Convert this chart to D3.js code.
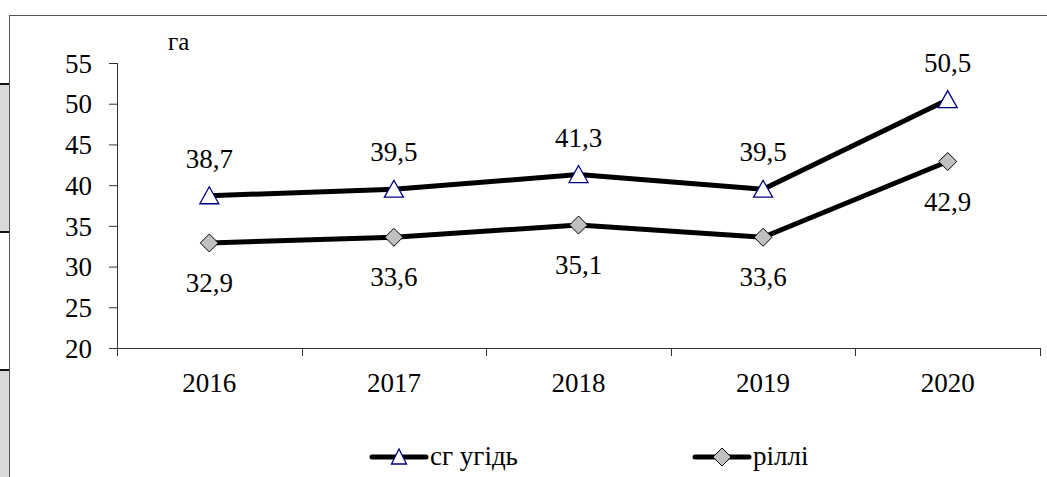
<!DOCTYPE html>
<html>
<head>
<meta charset="utf-8">
<script src="https://cdn.jsdelivr.net/npm/d3@7"></script>
<style>
  body { margin: 0; background: #fff; }
</style>
</head>
<body>
<svg id="chart" width="1047" height="477"></svg>
<script>
// data
var years = ["2016", "2017", "2018", "2019", "2020"];
var sgUgid = [38.7, 39.5, 41.3, 39.5, 50.5];   // сг угідь
var rilli = [32.9, 33.6, 35.1, 33.6, 42.9];    // ріллі
var yTicks = [20, 25, 30, 35, 40, 45, 50, 55];
var seriesNames = ["сг угідь", "ріллі"];

var FONT = "Liberation Serif";
var svg = d3.select("#chart").attr("font-family", FONT);
var fmt = function(v) { return d3.format(".1f")(v).replace(".", ","); };

// bits of the page around the chart frame
var strip = svg.append("g");
strip.append("rect").attr("x", 0).attr("y", 84).attr("width", 9).attr("height", 148).attr("fill", "#d9d9d9");
strip.append("rect").attr("x", 0).attr("y", 370).attr("width", 9).attr("height", 120).attr("fill", "#d9d9d9");
[84, 232, 370].forEach(function(y) {
  strip.append("line").attr("x1", 0).attr("x2", 9).attr("y1", y).attr("y2", y)
       .attr("stroke", "#111").attr("stroke-width", 2);
});
svg.append("rect").attr("x", 9.5).attr("y", 15.5).attr("width", 1100).attr("height", 500)
   .attr("fill", "none").attr("stroke", "#555").attr("stroke-width", 1);

var pLeft = 117, pRight = 1040, pTop = 63, pBottom = 348;

var x = d3.scaleBand().domain(years).range([pLeft, pRight]);
var y = d3.scaleLinear().domain([20, 55]).range([pBottom, pTop]);

// y axis
var yAxis = svg.append("g").attr("transform", "translate(" + pLeft + ",0)")
  .call(d3.axisLeft(y).tickValues(yTicks).tickSize(8).tickPadding(17).tickFormat(d3.format("d")));
yAxis.attr("font-family", FONT).attr("font-size", 27);
yAxis.select(".domain").attr("d", "M0.5," + pTop + "V" + (pBottom + 8)).attr("stroke", "#333");
yAxis.selectAll(".tick line").attr("stroke", "#333");
yAxis.selectAll("text").attr("font-family", FONT).attr("font-size", 27).attr("fill", "#000").attr("dy", "0.34em");

// x axis: ticks sit at the category boundaries
var xg = svg.append("g").attr("transform", "translate(0," + pBottom + ")");
xg.append("line").attr("x1", pLeft).attr("x2", pRight).attr("y1", 0.5).attr("y2", 0.5).attr("stroke", "#333");
var bounds = years.map(function(d) { return x(d) + x.bandwidth(); });
xg.selectAll(".bt").data(bounds).enter().append("line")
  .attr("x1", function(d) { return Math.round(d) + 0.5; })
  .attr("x2", function(d) { return Math.round(d) + 0.5; })
  .attr("y1", 0).attr("y2", 8).attr("stroke", "#333");
xg.selectAll(".yl").data(years).enter().append("text")
  .attr("x", function(d) { return x(d) + x.bandwidth() / 2; })
  .attr("y", 44)
  .attr("text-anchor", "middle").attr("font-size", 27).attr("font-family", FONT)
  .text(function(d) { return d; });

svg.append("text").attr("x", 168).attr("y", 50).attr("font-size", 25).attr("font-family", FONT).text("га");

var cx = function(i) { return x(years[i]) + x.bandwidth() / 2; };
var line = d3.line().x(function(d, i) { return cx(i); }).y(function(d) { return y(d); });

[sgUgid, rilli].forEach(function(s) {
  svg.append("path").datum(s).attr("d", line)
     .attr("fill", "none").attr("stroke", "#000").attr("stroke-width", 5).attr("stroke-linejoin", "round");
});

var dia = function(h) { return "M0," + (-h) + "L" + h + ",0L0," + h + "L" + (-h) + ",0Z"; };

svg.selectAll(".tri").data(sgUgid).enter().append("path")
  .attr("d", "M0,-9L9.5,8L-9.5,8Z")
  .attr("transform", function(d, i) { return "translate(" + cx(i) + "," + y(d) + ")"; })
  .attr("fill", "#fff").attr("stroke", "#000080").attr("stroke-width", 1.3);

svg.selectAll(".dia").data(rilli).enter().append("path")
  .attr("d", dia(9))
  .attr("transform", function(d, i) { return "translate(" + cx(i) + "," + y(d) + ")"; })
  .attr("fill", "#c0c0c0").attr("stroke", "#000").attr("stroke-width", 1);

svg.selectAll(".lt").data(sgUgid).enter().append("text")
  .attr("x", function(d, i) { return cx(i); })
  .attr("y", function(d) { return y(d) - 28; })
  .attr("text-anchor", "middle").attr("font-size", 27).attr("font-family", FONT)
  .text(fmt);

svg.selectAll(".lr").data(rilli).enter().append("text")
  .attr("x", function(d, i) { return cx(i); })
  .attr("y", function(d) { return y(d) + 49; })
  .attr("text-anchor", "middle").attr("font-size", 27).attr("font-family", FONT)
  .text(fmt);

// legend
var leg = [{x: 372, mark: "tri"}, {x: 695, mark: "dia"}];
leg.forEach(function(l, i) {
  var g = svg.append("g").attr("transform", "translate(" + l.x + ",457)");
  g.append("line").attr("x1", 0).attr("x2", 54).attr("stroke", "#000").attr("stroke-width", 5).attr("stroke-linecap", "round");
  if (l.mark == "tri") {
    g.append("path").attr("d", "M27,-8L34.5,7L19.5,7Z").attr("fill", "#fff").attr("stroke", "#000080").attr("stroke-width", 1.3);
  } else {
    g.append("path").attr("d", dia(9)).attr("transform", "translate(27,0)").attr("fill", "#c0c0c0").attr("stroke", "#000");
  }
  g.append("text").attr("x", 58).attr("y", 8).attr("font-size", 27).attr("font-family", FONT).text(seriesNames[i]);
});
</script>
</body>
</html>
